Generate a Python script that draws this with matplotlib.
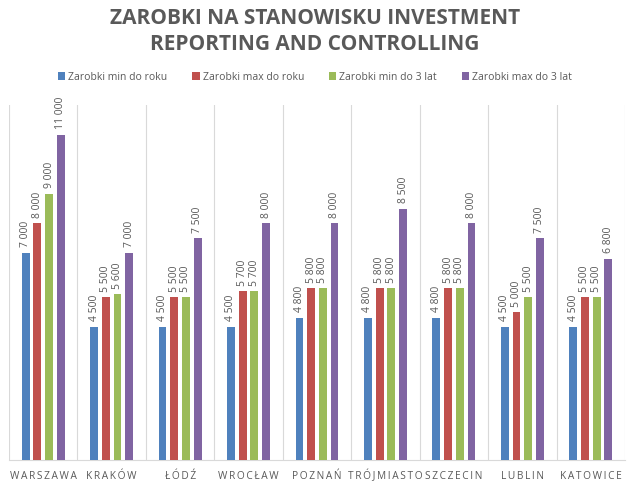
import numpy as np
import matplotlib
matplotlib.use('Agg')
import matplotlib.pyplot as plt
import matplotlib.transforms as mtransforms

cities = ['WARSZAWA', 'KRAKÓW', 'ŁÓDŹ', 'WROCŁAW', 'POZNAŃ',
          'TRÓJMIASTO', 'SZCZECIN', 'LUBLIN', 'KATOWICE']
series_names = ['Zarobki min do roku', 'Zarobki max do roku',
                'Zarobki min do 3 lat', 'Zarobki max do 3 lat']
min_rok = [7000, 4500, 4500, 4500, 4800, 4800, 4800, 4500, 4500]
max_rok = [8000, 5500, 5500, 5700, 5800, 5800, 5800, 5000, 5500]
min_3 = [9000, 5600, 5500, 5700, 5800, 5800, 5800, 5500, 5500]
max_3 = [11000, 7000, 7500, 8000, 8000, 8500, 8000, 7500, 6800]
colors = ['#4F81BD', '#C0504D', '#9BBB59', '#8064A2']

plt.rcParams['font.family'] = ['Open Sans', 'DejaVu Sans']
grey = '#595959'


def spaced(s):
    return '\u2009'.join(s)


fig = plt.figure(figsize=(6.3, 4.87), dpi=100)
ax = fig.add_axes([9 / 630, 1 - 460 / 487, 616 / 630, 355 / 487])

x = np.arange(len(cities))
step = 0.171
width = 0.115
for i, vals in enumerate([min_rok, max_rok, min_3, max_3]):
    pos = x + (i - 1.5) * step
    ax.bar(pos, vals, width, color=colors[i], label=series_names[i], zorder=3)
    for p, v in zip(pos, vals):
        txt = '{:,}'.format(v).replace(',', ' ')
        ax.annotate(txt, (p, v), xytext=(0, 4), textcoords='offset points',
                    rotation=90, ha='center', va='bottom',
                    fontsize=7.5, color=grey)

ax.set_xlim(-0.5, len(cities) - 0.5)
ax.set_ylim(0, 12000)
ax.set_yticks([])
ax.set_xticks([])
trans = mtransforms.blended_transform_factory(ax.transData, fig.transFigure)
for xi, c in zip(x, cities):
    ax.text(xi, 1 - 479 / 487, spaced(c), transform=trans, ha='center',
            va='baseline', fontsize=7.3, color=grey)
for b in np.arange(-0.5, len(cities), 1.0):
    ax.axvline(b, color='#D9D9D9', lw=0.8, zorder=1)
for s in ['top', 'left', 'right']:
    ax.spines[s].set_visible(False)
ax.spines['bottom'].set_color('#D9D9D9')

fig.text(0.5, 1 - 18 / 487, 'ZAROBKI NA STANOWISKU INVESTMENT',
         ha='center', va='center', fontsize=15, fontweight='bold', color=grey)
fig.text(0.5, 1 - 45 / 487, 'REPORTING AND CONTROLLING',
         ha='center', va='center', fontsize=15, fontweight='bold', color=grey)

handles, labels = ax.get_legend_handles_labels()
fig.legend(handles, labels, loc='center', bbox_to_anchor=(0.5, 1 - 77 / 487),
           ncol=4, frameon=False, fontsize=7.5, handlelength=0.7,
           handleheight=0.7, handletextpad=0.3, columnspacing=2.4,
           labelcolor=grey)

fig.savefig('out.png', dpi=100)
